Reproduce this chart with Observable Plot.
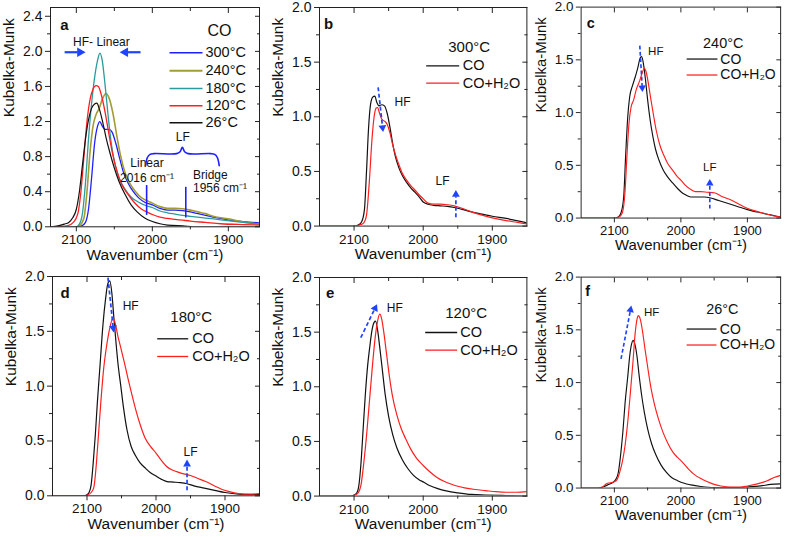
<!DOCTYPE html>
<html><head><meta charset="utf-8">
<script src="https://cdn.jsdelivr.net/npm/d3@7"></script>
<script src="https://cdn.jsdelivr.net/npm/@observablehq/plot@0.6"></script>
<style>
body{margin:0;background:#fff;}
#fig{position:relative;width:792px;height:537px;overflow:hidden;background:#fff;}
#fig > div{position:absolute;}
#fig svg{overflow:visible;}
</style></head><body><div id="fig"></div>
<script>
// ---------- data: [wavenumber (cm-1), Kubelka-Munk] ----------
const a300 = [[2134,0],[2100,0],[2093,0.01],[2088,0.05],[2084,0.2],[2080,0.55],[2076,0.95],[2072,1.15],[2069,1.2],[2066,1.15],[2062,1.11],[2057,1.11],[2053,1.08],[2048,0.95],[2043,0.78],[2038,0.62],[2032,0.5],[2025,0.4],[2018,0.33],[2010,0.28],[2000,0.25],[1990,0.21],[1980,0.19],[1970,0.19],[1960,0.185],[1950,0.17],[1940,0.15],[1930,0.13],[1920,0.11],[1900,0.08],[1880,0.06],[1859,0.045]];
const a240 = [[2134,0],[2100,0],[2095,0.02],[2090,0.1],[2086,0.4],[2082,0.85],[2078,1.15],[2074,1.28],[2070,1.35],[2066,1.45],[2061,1.52],[2057,1.47],[2052,1.3],[2047,1.05],[2042,0.82],[2036,0.62],[2030,0.5],[2022,0.4],[2014,0.33],[2005,0.29],[2000,0.27],[1990,0.23],[1980,0.21],[1970,0.21],[1960,0.205],[1950,0.19],[1940,0.17],[1930,0.15],[1920,0.12],[1900,0.09],[1880,0.055],[1859,0.03]];
const a180 = [[2134,0],[2100,0],[2096,0.03],[2092,0.15],[2088,0.5],[2084,1.0],[2080,1.4],[2076,1.7],[2072,1.9],[2069,1.98],[2066,1.9],[2062,1.6],[2058,1.25],[2054,0.95],[2050,0.75],[2044,0.56],[2036,0.43],[2028,0.34],[2018,0.28],[2008,0.24],[2000,0.22],[1990,0.18],[1980,0.16],[1970,0.145],[1960,0.13],[1950,0.12],[1930,0.1],[1910,0.08],[1890,0.06],[1859,0.03]];
const a120 = [[2134,0],[2112,0.01],[2104,0.05],[2098,0.15],[2094,0.4],[2090,0.8],[2086,1.2],[2082,1.45],[2078,1.57],[2074,1.61],[2071,1.6],[2067,1.5],[2062,1.3],[2057,1.05],[2052,0.82],[2046,0.62],[2040,0.48],[2032,0.37],[2024,0.28],[2014,0.2],[2005,0.16],[2000,0.14],[1990,0.11],[1980,0.095],[1970,0.085],[1960,0.075],[1950,0.065],[1930,0.05],[1910,0.035],[1880,0.025],[1859,0.02]];
const a26 = [[2134,0],[2124,0.01],[2116,0.03],[2110,0.05],[2105,0.1],[2100,0.2],[2096,0.4],[2092,0.7],[2088,1.0],[2084,1.22],[2080,1.35],[2076,1.4],[2073,1.41],[2070,1.35],[2066,1.22],[2061,1.02],[2056,0.85],[2050,0.67],[2044,0.52],[2036,0.37],[2028,0.25],[2020,0.17],[2010,0.1],[2000,0.06],[1990,0.035],[1980,0.02],[1960,0.01],[1940,0],[1859,0]];

const b_co = [[2150,0],[2100,0],[2094,0.01],[2089,0.04],[2085,0.15],[2082,0.5],[2079,0.9],[2076,1.12],[2073,1.18],[2070,1.19],[2067,1.13],[2064,1.1],[2060,1.11],[2056,1.1],[2052,1.03],[2048,0.9],[2044,0.75],[2040,0.63],[2035,0.53],[2030,0.46],[2024,0.4],[2018,0.35],[2012,0.31],[2005,0.26],[2000,0.22],[1993,0.2],[1985,0.19],[1975,0.185],[1965,0.18],[1955,0.17],[1945,0.155],[1930,0.13],[1915,0.11],[1900,0.09],[1880,0.07],[1865,0.05],[1850,0.03]];
const b_h2o = [[2150,0],[2100,0],[2092,0.01],[2086,0.03],[2082,0.1],[2078,0.4],[2074,0.8],[2071,1.0],[2068,1.08],[2066,1.085],[2063,1.03],[2060,0.98],[2056,0.96],[2052,0.93],[2048,0.85],[2044,0.74],[2040,0.65],[2035,0.56],[2030,0.48],[2024,0.42],[2018,0.37],[2012,0.33],[2005,0.28],[2000,0.25],[1993,0.21],[1985,0.2],[1975,0.2],[1965,0.195],[1955,0.185],[1945,0.165],[1930,0.13],[1915,0.1],[1900,0.075],[1880,0.05],[1865,0.035],[1850,0.02]];

const c_co = [[2150,0],[2100,0],[2094,0.01],[2090,0.05],[2086,0.2],[2083,0.6],[2080,0.95],[2077,1.15],[2073,1.25],[2069,1.33],[2065,1.42],[2061,1.52],[2059,1.53],[2056,1.45],[2053,1.3],[2050,1.12],[2046,0.92],[2042,0.77],[2038,0.65],[2033,0.55],[2027,0.46],[2020,0.39],[2012,0.33],[2005,0.28],[2000,0.25],[1993,0.22],[1985,0.2],[1975,0.2],[1965,0.2],[1955,0.19],[1945,0.17],[1930,0.14],[1915,0.11],[1900,0.08],[1880,0.05],[1865,0.03],[1850,0.01]];
const c_h2o = [[2150,0],[2100,0],[2093,0.01],[2088,0.05],[2084,0.25],[2081,0.6],[2078,0.9],[2075,1.05],[2071,1.12],[2067,1.22],[2062,1.3],[2058,1.38],[2055,1.42],[2052,1.38],[2049,1.28],[2045,1.12],[2041,0.97],[2037,0.83],[2032,0.7],[2026,0.6],[2020,0.52],[2012,0.45],[2005,0.39],[2000,0.36],[1993,0.31],[1985,0.27],[1978,0.25],[1970,0.25],[1960,0.245],[1950,0.24],[1940,0.21],[1928,0.18],[1915,0.14],[1903,0.1],[1890,0.07],[1875,0.045],[1860,0.02],[1850,0.01]];

const d_co = [[2150,0],[2105,0],[2100,0.01],[2097,0.03],[2094,0.1],[2091,0.3],[2088,0.55],[2085,0.85],[2081,1.2],[2077,1.55],[2073,1.8],[2070,1.93],[2067,1.96],[2064,1.85],[2061,1.62],[2058,1.4],[2055,1.2],[2051,1.0],[2047,0.8],[2042,0.6],[2036,0.45],[2030,0.37],[2023,0.3],[2015,0.25],[2008,0.21],[2000,0.18],[1992,0.15],[1984,0.13],[1975,0.125],[1965,0.12],[1955,0.11],[1945,0.09],[1930,0.07],[1915,0.05],[1900,0.03],[1880,0.015],[1850,0.01]];
const d_h2o = [[2150,0],[2105,0],[2098,0.01],[2094,0.03],[2090,0.08],[2087,0.25],[2084,0.5],[2080,0.85],[2076,1.15],[2072,1.35],[2068,1.5],[2064,1.6],[2062,1.62],[2059,1.57],[2055,1.45],[2051,1.35],[2046,1.22],[2041,1.08],[2036,0.95],[2030,0.8],[2023,0.65],[2016,0.53],[2008,0.45],[2000,0.39],[1992,0.32],[1985,0.27],[1978,0.24],[1970,0.22],[1960,0.2],[1950,0.185],[1940,0.16],[1928,0.13],[1915,0.09],[1905,0.06],[1895,0.04],[1880,0.02],[1865,0.015],[1850,0.02]];

const e_co = [[2150,0],[2105,0],[2100,0.01],[2096,0.03],[2093,0.1],[2090,0.3],[2087,0.6],[2084,0.9],[2081,1.15],[2077,1.38],[2074,1.52],[2071,1.59],[2069,1.6],[2066,1.52],[2063,1.37],[2059,1.15],[2055,0.93],[2050,0.73],[2044,0.56],[2038,0.44],[2030,0.33],[2022,0.25],[2014,0.19],[2006,0.15],[2000,0.13],[1990,0.095],[1980,0.07],[1965,0.045],[1950,0.03],[1930,0.015],[1910,0.01],[1880,0.005],[1850,0]];
const e_h2o = [[2150,0],[2105,0],[2098,0.01],[2094,0.03],[2090,0.1],[2086,0.3],[2082,0.55],[2078,0.85],[2074,1.15],[2070,1.42],[2066,1.6],[2063,1.665],[2060,1.62],[2057,1.5],[2053,1.3],[2049,1.1],[2044,0.9],[2038,0.74],[2032,0.62],[2025,0.52],[2018,0.43],[2010,0.35],[2000,0.28],[1990,0.22],[1980,0.17],[1970,0.135],[1960,0.11],[1950,0.09],[1940,0.075],[1925,0.06],[1910,0.05],[1895,0.04],[1880,0.035],[1865,0.035],[1850,0.04]];

const f_co = [[2150,0],[2125,0],[2117,0.01],[2110,0.03],[2103,0.05],[2098,0.08],[2094,0.15],[2090,0.35],[2087,0.55],[2084,0.8],[2080,1.05],[2077,1.25],[2074,1.37],[2072,1.4],[2069,1.36],[2066,1.25],[2063,1.08],[2059,0.88],[2055,0.72],[2050,0.56],[2044,0.42],[2038,0.32],[2030,0.22],[2022,0.15],[2014,0.1],[2005,0.07],[1995,0.045],[1985,0.03],[1970,0.015],[1950,0.005],[1920,0.005],[1900,0.01],[1880,0.02],[1865,0.035],[1850,0.04]];
const f_h2o = [[2150,0],[2125,0],[2118,0.01],[2112,0.04],[2106,0.05],[2100,0.06],[2096,0.08],[2092,0.15],[2088,0.25],[2084,0.4],[2080,0.62],[2076,0.9],[2072,1.2],[2069,1.45],[2066,1.6],[2064,1.635],[2061,1.6],[2058,1.5],[2054,1.32],[2050,1.15],[2045,0.95],[2040,0.8],[2034,0.66],[2027,0.53],[2020,0.43],[2012,0.34],[2005,0.29],[2000,0.26],[1990,0.19],[1980,0.13],[1970,0.09],[1960,0.06],[1950,0.035],[1940,0.02],[1925,0.01],[1910,0.01],[1900,0.02],[1885,0.04],[1870,0.07],[1860,0.1],[1850,0.12]];

// tick values
const xTicks = [2100, 2000, 1900];
const xMinor = [2050, 1950];
const yTicksA = [0, 0.4, 0.8, 1.2, 1.6, 2.0, 2.4];
const yMinorA = [0.2, 0.6, 1.0, 1.4, 1.8, 2.2];
const yTicks = [0, 0.5, 1.0, 1.5, 2.0];
const yMinor = [0.25, 0.75, 1.25, 1.75];

// series labels
const tempsA = ["300°C", "240°C", "180°C", "120°C", "26°C"];
const gasLabels = ["CO", "CO+H₂O"];

// annotation values (data units)
const markerLinesA = [{x: 2007.5, y1: 0.13, y2: 0.47}, {x: 1956, y1: 0.10, y2: 0.45}];

// ---------- styling ----------
const FONT = "'Liberation Sans', Arial, Helvetica, sans-serif";
const BLUE = "#1e1eff", OLIVE = "#a39c34", TEAL = "#2a9b9b", RED = "#ff1f1f", BLACK = "#111";
const ARROW = "#1f43ff";

const panels = [
  {letter: "a", frame: [50, 6.7, 259, 226], xDomain: [2134, 1859], yMax: 2.5, yT: yTicksA, yM: yMinorA,
   series: [[a300, BLUE, 1.3], [a240, OLIVE, 1.6], [a180, TEAL, 1.3], [a120, RED, 1.3], [a26, BLACK, 1.2]],
   letterPos: [64, 24], title: "CO", titlePos: [219, 30], titleSize: 16,
   legend: tempsA.map((t, i) => ({label: t, color: [BLUE, OLIVE, TEAL, RED, BLACK][i], w: i === 1 ? 2 : 1.4})),
   legX: [169, 202, 205], legY: [52, 70, 87.7, 105, 122],
   arrows: [{from: [2115.4, 1.99], to: [2087.8, 1.99], dashed: false}, {from: [2015.5, 1.99], to: [2043, 1.99], dashed: false}],
   notes: [{t: "HF- Linear", x: 2067, y: 2.10, anchor: "middle"}, {t: "LF", x: 1960, y: 1.02, anchor: "middle"},
           {t: "Linear", x: 2007, y: 0.72, anchor: "middle"}, {t: "2016 cm⁻¹", x: 2007, y: 0.56, anchor: "middle"},
           {t: "Bridge", x: 1946.5, y: 0.594, anchor: "start"}, {t: "1956 cm⁻¹", x: 1946.5, y: 0.446, anchor: "start"}],
   brace: true},
  {letter: "b", frame: [319.3, 6.7, 526.7, 225.3], xDomain: [2150, 1850], yMax: 2, yT: yTicks, yM: yMinor,
   series: [[b_co, BLACK, 1.2], [b_h2o, RED, 1.2]], letterPos: [328.3, 23.3], title: "300°C", titlePos: [469, 46], titleSize: 15,
   legend: [{label: gasLabels[0], color: BLACK, w: 1.3}, {label: gasLabels[1], color: RED, w: 1.3}],
   legX: [426, 459, 462.5], legY: [65, 82.3],
   arrows: [{from: [2065.2, 1.27], to: [2058, 0.86], dashed: true}, {from: [1952.7, 0.08], to: [1952.7, 0.33], dashed: true}],
   notes: [{t: "HF", x: 2030, y: 1.13}, {t: "LF", x: 1972, y: 0.415}]},
  {letter: "c", frame: [583.3, 6.7, 790.7, 226], xDomain: [2150, 1850], yMax: 2, yT: yTicks, yM: yMinor,
   series: [[c_co, BLACK, 1.2], [c_h2o, RED, 1.2]], letterPos: [593.3, 23.3], title: "240°C", titlePos: [731, 44], titleSize: 15,
   legend: [{label: gasLabels[0], color: BLACK, w: 1.3}, {label: gasLabels[1], color: RED, w: 1.3}],
   legX: [693, 725, 728], legY: [60.7, 77.3],
   arrows: [{from: [2061.8, 1.635], to: [2057.7, 1.195], dashed: true}, {from: [1956.5, 0.09], to: [1956.5, 0.37], dashed: true}],
   notes: [{t: "HF", x: 2037.7, y: 1.58}, {t: "LF", x: 1956.5, y: 0.48}]},
  {letter: "d", frame: [52.3, 275.7, 259.3, 495], xDomain: [2150, 1850], yMax: 2, yT: yTicks, yM: yMinor,
   series: [[d_co, BLACK, 1.2], [d_h2o, RED, 1.2]], letterPos: [65, 292.3], title: "180°C", titlePos: [191, 316.7], titleSize: 15,
   legend: [{label: gasLabels[0], color: BLACK, w: 1.3}, {label: gasLabels[1], color: RED, w: 1.3}],
   legX: [157, 188, 192], legY: [338, 355.7],
   arrows: [{from: [2069.6, 1.99], to: [2061.4, 1.49], dashed: true}, {from: [1955, 0.05], to: [1955, 0.33], dashed: true}],
   notes: [{t: "HF", x: 2036.7, y: 1.73}, {t: "LF", x: 1950, y: 0.40}]},
  {letter: "e", frame: [319.3, 276.7, 526.7, 495.3], xDomain: [2150, 1850], yMax: 2, yT: yTicks, yM: yMinor,
   series: [[e_co, BLACK, 1.2], [e_h2o, RED, 1.2]], letterPos: [330, 292.7], title: "120°C", titlePos: [466, 312.7], titleSize: 15,
   legend: [{label: gasLabels[0], color: BLACK, w: 1.3}, {label: gasLabels[1], color: RED, w: 1.3}],
   legX: [425, 457, 460], legY: [331.7, 349.3],
   arrows: [{from: [2090.3, 1.45], to: [2066.7, 1.756], dashed: true}],
   notes: [{t: "HF", x: 2041, y: 1.72}]},
  {letter: "f", frame: [583.3, 276.7, 790.7, 496], xDomain: [2150, 1850], yMax: 2, yT: yTicks, yM: yMinor,
   series: [[f_co, BLACK, 1.2], [f_h2o, RED, 1.2]], letterPos: [590, 291.7], title: "26°C", titlePos: [730, 310.7], titleSize: 15,
   legend: [{label: gasLabels[0], color: BLACK, w: 1.3}, {label: gasLabels[1], color: RED, w: 1.3}],
   legX: [693, 724, 727.5], legY: [330.7, 347.3],
   arrows: [{from: [2090, 1.225], to: [2074.5, 1.73], dashed: true}],
   notes: [{t: "HF", x: 2044, y: 1.67}]}
];

const fig = document.getElementById("fig");
const mL = 62, mR = 12, mT = 10, mB = 45;

function build(p) {
  const [L, T, R, B] = p.frame;
  const W = R - L, H = B - T;
  const [d0, d1] = p.xDomain;
  const kx = W / (d1 - d0), ky = H / p.yMax;
  const X = px => d0 + (px - L) / kx;          // page px -> data x
  const Y = py => (B - py) / ky;               // page py -> data y
  const toPx = (x, y) => [L + (x - d0) * kx, B - y * ky];

  const marks = [];
  for (const [data, color, w] of p.series) {
    marks.push(Plot.line(data, {x: d => d[0], y: d => d[1], stroke: color, strokeWidth: w, curve: "monotone-x", clip: true}));
  }
  marks.push(Plot.frame({stroke: "#222", strokeWidth: 1}));
  marks.push(Plot.axisX({ticks: xTicks, tickSize: 5, tickPadding: 3, fontSize: 13.5, tickFormat: d3.format("d"), label: null, stroke: "#222"}));
  marks.push(Plot.axisX({ticks: xMinor, tickSize: 3, tickFormat: () => "", label: null, stroke: "#222"}));
  marks.push(Plot.axisX({anchor: "top", ticks: xTicks, tickSize: -5, tickFormat: () => "", label: null, stroke: "#222"}));
  marks.push(Plot.axisX({anchor: "top", ticks: xMinor, tickSize: -3, tickFormat: () => "", label: null, stroke: "#222"}));
  marks.push(Plot.axisY({ticks: p.yT, tickSize: 5, tickPadding: 3, fontSize: 14, tickFormat: d3.format(".1f"), label: null, stroke: "#222"}));
  marks.push(Plot.axisY({ticks: p.yM, tickSize: 3, tickFormat: () => "", label: null, stroke: "#222"}));
  marks.push(Plot.axisY({anchor: "right", ticks: p.yT, tickSize: -5, tickFormat: () => "", label: null, stroke: "#222"}));
  marks.push(Plot.axisY({anchor: "right", ticks: p.yM, tickSize: -3, tickFormat: () => "", label: null, stroke: "#222"}));
  marks.push(Plot.text(["Wavenumber (cm⁻¹)"], {frameAnchor: "bottom", dy: 33, fontSize: 15.5, fill: "#111"}));
  marks.push(Plot.text(["Kubelka-Munk"], {frameAnchor: "left", dx: -41, rotate: -90, fontSize: 15.5, fill: "#111"}));
  marks.push(Plot.text([p.letter], {x: X(p.letterPos[0]), y: Y(p.letterPos[1]), fontSize: 15, fontWeight: "bold", fill: "#111"}));
  marks.push(Plot.text([p.title], {x: X(p.titlePos[0]), y: Y(p.titlePos[1]), fontSize: p.titleSize, fill: "#111"}));
  p.legend.forEach((e, i) => {
    const yy = Y(p.legY[i]);
    marks.push(Plot.link([e], {x1: X(p.legX[0]), x2: X(p.legX[1]), y1: yy, y2: yy, stroke: e.color, strokeWidth: e.w}));
    marks.push(Plot.text([e.label], {x: X(p.legX[2]), y: yy, textAnchor: "start", fontSize: 14.5, fill: "#111"}));
  });
  for (const n of p.notes) {
    marks.push(Plot.text([n.t], {x: n.x, y: n.y, textAnchor: n.anchor || "middle", fontSize: 12, fill: "#111"}));
  }
  for (const a of p.arrows) {
    const [px1, py1] = toPx(...a.from), [px2, py2] = toPx(...a.to);
    const len = Math.hypot(px2 - px1, py2 - py1);
    const ux = (px2 - px1) / len, uy = (py2 - py1) / len;
    const r = a.dashed ? 2.9 : 3.6;
    const ang = Math.atan2(ux, -uy) * 180 / Math.PI;
    const hc = [px2 - ux * 1.555 * r, py2 - uy * 1.555 * r];
    const se = [px2 - ux * 2.2 * r, py2 - uy * 2.2 * r];
    marks.push(Plot.link([a], {x1: a.from[0], y1: a.from[1], x2: X(se[0]), y2: Y(se[1]), stroke: ARROW,
      strokeWidth: a.dashed ? 1.7 : 2.2, strokeDasharray: a.dashed ? "4,2.5" : null}));
    marks.push(Plot.dot([a], {x: X(hc[0]), y: Y(hc[1]), symbol: "triangle", r: r, fill: ARROW, stroke: "none", rotate: ang}));
  }
  if (p.brace) {
    for (const m of markerLinesA) {
      marks.push(Plot.ruleX([m], {x: "x", y1: "y1", y2: "y2", stroke: BLUE, strokeWidth: 1.6}));
    }
    const bx = [2008.8, 2006.5, 2003, 1998, 1968, 1963.5, 1960.5, 1957.5, 1953, 1923, 1918, 1914.5, 1912];
    const by = [0.697, 0.79, 0.825, 0.834, 0.834, 0.856, 0.906, 0.856, 0.834, 0.834, 0.825, 0.79, 0.697];
    marks.push(Plot.line(bx.map((x, i) => [x, by[i]]), {x: d => d[0], y: d => d[1], stroke: BLUE, strokeWidth: 1.6, curve: "catmull-rom"}));
  }

  const chart = Plot.plot({
    width: W + mL + mR, height: H + mT + mB,
    marginLeft: mL, marginRight: mR, marginTop: mT, marginBottom: mB,
    x: {domain: p.xDomain}, y: {domain: [0, p.yMax]},
    style: {fontFamily: FONT, fontSize: "14px", color: "#111", background: "transparent", overflow: "visible"},
    marks
  });
  const div = document.createElement("div");
  div.style.left = (L - mL) + "px";
  div.style.top = (T - mT) + "px";
  div.appendChild(chart);
  fig.appendChild(div);
}
panels.forEach(build);
</script></body></html>
